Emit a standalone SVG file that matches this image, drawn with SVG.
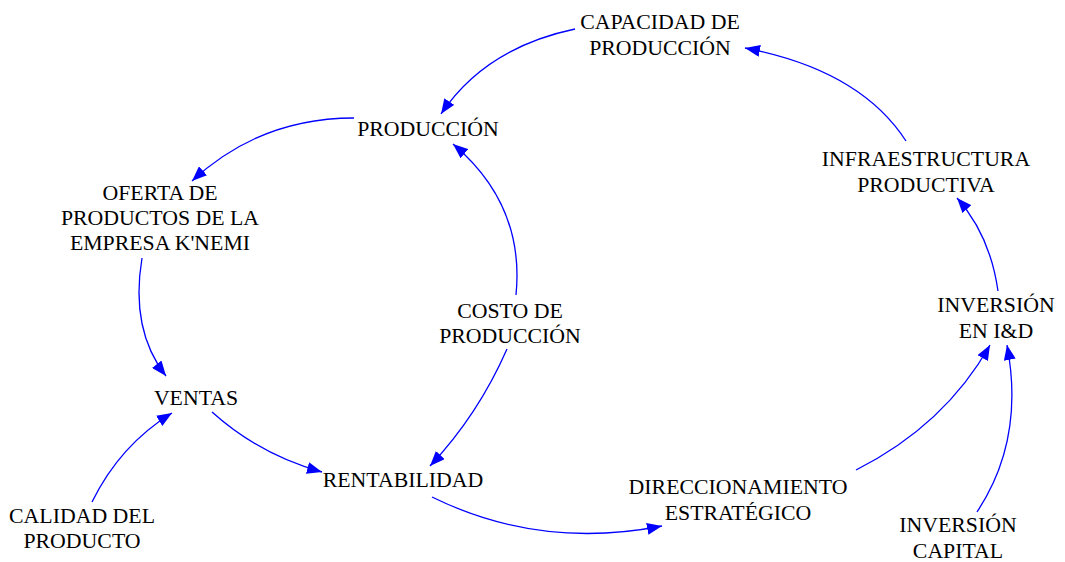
<svg xmlns="http://www.w3.org/2000/svg" width="1065" height="562" viewBox="0 0 1065 562">
<style>
.c{fill:none;stroke:#0000FF;stroke-width:1.3}
</style>
<defs>
<marker id="ah" markerUnits="userSpaceOnUse" markerWidth="16" markerHeight="12" refX="15" refY="6" orient="auto">
<path d="M0,0 L15,6 L0,12 Z" fill="#0000FF"/>
</marker>
</defs>
<rect width="1065" height="562" fill="#fff"/>
<g id="connectors">
<path class="c" marker-end="url(#ah)" d="M575,29 Q485,48 441,114"/>
<path class="c" marker-end="url(#ah)" d="M354,118 Q260,118 192,181"/>
<path class="c" marker-end="url(#ah)" d="M142,258 Q130,330 166,376"/>
<path class="c" marker-end="url(#ah)" d="M92,502 Q120,445 172,413"/>
<path class="c" marker-end="url(#ah)" d="M212,412 Q260,455 322,472"/>
<path class="c" marker-end="url(#ah)" d="M516,295 Q525,205 453,144"/>
<path class="c" marker-end="url(#ah)" d="M507,349 Q478,415 430,466"/>
<path class="c" marker-end="url(#ah)" d="M432,497 Q540,550 662,526"/>
<path class="c" marker-end="url(#ah)" d="M856,470 Q945,425 990,345"/>
<path class="c" marker-end="url(#ah)" d="M977,512 Q1025,440 1007,345"/>
<path class="c" marker-end="url(#ah)" d="M998,291 Q990,235 957,198"/>
<path class="c" marker-end="url(#ah)" d="M906,141 Q860,70 745,48"/>
</g>
<g font-family="Liberation Serif, Times New Roman, serif" font-size="21.8" fill="#000" text-anchor="middle">
<g id="capacidad"><text x="660" y="29">CAPACIDAD DE</text><text x="660" y="55">PRODUCCIÓN</text></g>
<g id="produccion"><text x="428" y="136">PRODUCCIÓN</text></g>
<g id="oferta"><text x="160" y="200">OFERTA DE</text><text x="160" y="225">PRODUCTOS DE LA</text><text x="160" y="250">EMPRESA K'NEMI</text></g>
<g id="ventas"><text x="196" y="405">VENTAS</text></g>
<g id="calidad"><text x="82" y="523">CALIDAD DEL</text><text x="82" y="548">PRODUCTO</text></g>
<g id="rentabilidad"><text x="403" y="487">RENTABILIDAD</text></g>
<g id="costo"><text x="510" y="318">COSTO DE</text><text x="510" y="343">PRODUCCIÓN</text></g>
<g id="direccionamiento"><text x="738" y="494">DIRECCIONAMIENTO</text><text x="738" y="520">ESTRATÉGICO</text></g>
<g id="inversion_id"><text x="996" y="312">INVERSIÓN</text><text x="996" y="338">EN I&amp;D</text></g>
<g id="infraestructura"><text x="926" y="166">INFRAESTRUCTURA</text><text x="926" y="192">PRODUCTIVA</text></g>
<g id="inversion_capital"><text x="958" y="532">INVERSIÓN</text><text x="958" y="558">CAPITAL</text></g>
</g>
</svg>
